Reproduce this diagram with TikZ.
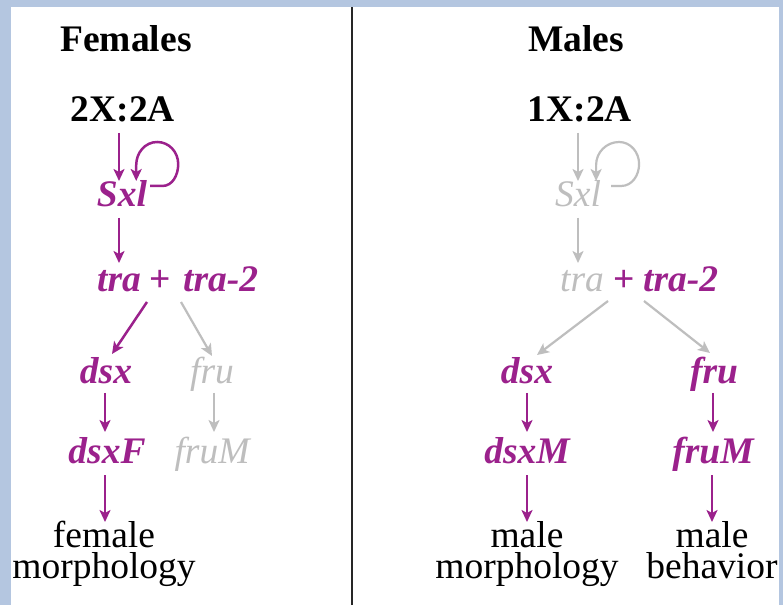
\documentclass[tikz,border=0pt]{standalone}
\usepackage{fontspec}
\setmainfont{Liberation Serif}
\usetikzlibrary{arrows.meta,calc}
\definecolor{mag}{RGB}{155,33,140}
\definecolor{lgray}{RGB}{190,190,190}
\definecolor{band}{RGB}{180,198,224}
\begin{document}
\begin{tikzpicture}[x=1pt,y=1pt,
  txt/.style={inner sep=0pt,anchor=base,font=\fontsize{37.5}{31}\selectfont},
  hd/.style={txt,font=\fontsize{37.5}{31}\selectfont\bfseries},
  on/.style={txt,text=mag,font=\fontsize{37.5}{31}\selectfont\bfseries\itshape},
  off/.style={txt,text=lgray,font=\fontsize{37.5}{31}\selectfont\itshape},
  lab/.style={txt,align=center},
  arr/.style={-{Stealth[length=12pt,width=11pt,inset=3pt]},line width=2.5pt,draw=mag},
  garr/.style={-{Stealth[length=12pt,width=11pt,inset=3pt]},line width=2.2pt,draw=lgray}]
\useasboundingbox (0,0) rectangle (783,605);
\fill[band] (0,0) rectangle (783,605);
\fill[white] (11,0) rectangle (779,598);
\draw[line width=2.4pt,draw=black!85] (352,0) -- (352,598);

% Females
\node[hd] (fem) at (126,553) {Females};
\node[hd] (xaF) at (123,483) {2X:2A};
\node[on] (sxlF) at (122,398) {Sxl};
\node[on,anchor=base west] (traF) at (97,313) {tra};
\node[txt,text=mag,font=\fontsize{37.5}{31}\selectfont\bfseries] (plusF) at (160,313) {+};
\node[on,anchor=base west] (tra2F) at (183,313) {tra-2};
\node[on] (dsxF) at (106,222) {dsx};
\node[off] (fruF) at (212,222) {fru};
\node[on] (dsxFF) at (107,142) {dsxF};
\node[off] (fruMF) at (212,142) {fruM};
\node[lab] (femm) at (104,27) {female\\morphology};

\draw[arr] ($(xaF.base)+(-4,-11)$) -- ($(sxlF.base)+(-3,26)$);
\draw[arr] ($(sxlF.base east)+(3,21)$) -- ++(12,0) to[out=0,in=-90] ++(16,22) to[out=90,in=0] ++(-21,22) to[out=180,in=90] ++(-21,-23) -- ++(0,-16);
\draw[arr] ($(sxlF.base)+(-3,-11)$) -- ($(traF.base west)+(22,29)$);
\draw[arr] ($(traF.base west)+(50,-10)$) -- ($(dsxF.base)+(6,29)$);
\draw[garr] ($(tra2F.base west)+(-2,-10)$) -- ($(fruF.base)+(0,27)$);
\draw[arr] ($(dsxF.base)+(-1,-10)$) -- ($(dsxFF.base)+(-2,31)$);
\draw[garr] ($(fruF.base)+(2,-10)$) -- ($(fruMF.base)+(2,31)$);
\draw[arr] ($(dsxFF.base)+(-2,-12)$) -- ($(femm.base)+(1,56)$);

% Males
\node[hd] (mal) at (576,553) {Males};
\node[hd] (xaM) at (580,483) {1X:2A};
\node[off] (sxlM) at (578,398) {Sxl};
\node[off,anchor=base west] (traM) at (560,313) {tra};
\node[txt,text=mag,font=\fontsize{37.5}{31}\selectfont\bfseries] (plusM) at (624,313) {+};
\node[on,anchor=base west] (tra2M) at (643,313) {tra-2};
\node[on] (dsxM) at (527,222) {dsx};
\node[on] (fruM) at (714,222) {fru};
\node[on] (dsxMM) at (527,142) {dsxM};
\node[on] (fruMM) at (713,142) {fruM};
\node[lab] (malm) at (527,27) {male\\morphology};
\node[lab] (malb) at (712,27) {male\\behavior};

\draw[garr] ($(xaM.base)+(-2,-11)$) -- ($(sxlM.base)+(0,26)$);
\draw[garr] ($(sxlM.base east)+(10,21)$) -- ++(10,0) to[out=0,in=-90] ++(18,22) to[out=90,in=0] ++(-20,22) to[out=180,in=90] ++(-23,-23) -- ++(0,-16);
\draw[garr] ($(sxlM.base)+(0,-11)$) -- ($(traM.base west)+(18,29)$);
\draw[garr] ($(traM.base west)+(48,-9)$) -- ($(dsxM.base)+(10,28)$);
\draw[garr] ($(tra2M.base west)+(1,-9)$) -- ($(fruM.base)+(-4,30)$);
\draw[arr] ($(dsxM.base)+(0,-10)$) -- ($(dsxMM.base)+(0,31)$);
\draw[arr] ($(fruM.base)+(-1,-10)$) -- ($(fruMM.base)+(0,31)$);
\draw[arr] ($(dsxMM.base)+(0,-12)$) -- ($(malm.base)+(0,56)$);
\draw[arr] ($(fruMM.base)+(-1,-12)$) -- ($(malb.base)+(0,56)$);
\end{tikzpicture}
\end{document}
